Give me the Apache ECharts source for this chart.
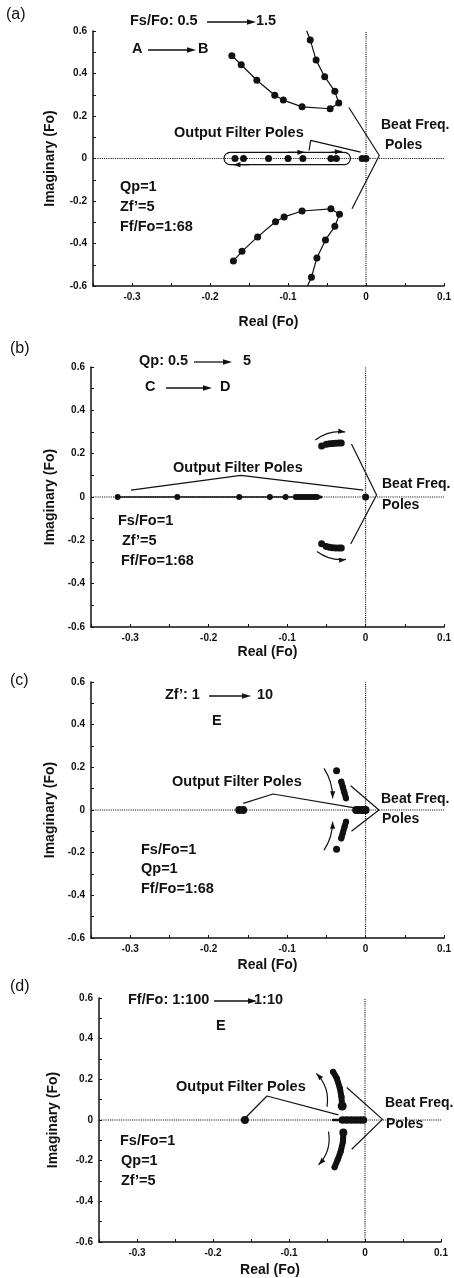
<!DOCTYPE html>
<html>
<head>
<meta charset="utf-8">
<script src="https://cdn.jsdelivr.net/npm/echarts@6/dist/echarts.min.js"></script>
<style>
  html, body { margin: 0; padding: 0; background: #fff; }
  #chart { width: 454px; height: 1278px; }
</style>
</head>
<body>
<div id="chart"></div>
<script>
// ---- pole locations, [real, imaginary] in Fo ----
// (a) Fs/Fo 0.5 -> 1.5
const aUpper = [[-0.172, 0.484], [-0.160, 0.441], [-0.140, 0.368], [-0.117, 0.298], [-0.106, 0.275],
  [-0.082, 0.243], [-0.046, 0.234], [-0.035, 0.261], [-0.040, 0.316], [-0.053, 0.385],
  [-0.064, 0.463], [-0.0715, 0.558], [-0.076, 0.600]];
const aLower = [[-0.170, -0.482], [-0.159, -0.437], [-0.139, -0.369], [-0.116, -0.298], [-0.105, -0.275],
  [-0.082, -0.247], [-0.045, -0.237], [-0.034, -0.262], [-0.040, -0.319], [-0.052, -0.383],
  [-0.063, -0.468], [-0.070, -0.559], [-0.075, -0.600]];
const aFilter = [[-0.168, 0], [-0.157, 0], [-0.125, 0], [-0.100, 0], [-0.081, 0], [-0.045, 0], [-0.038, 0]];
const aBeat = [[-0.005, 0], [0, 0]];

// (b) Qp 0.5 -> 5
const bFilter = [[-0.316, 0], [-0.240, 0], [-0.161, 0], [-0.122, 0], [-0.102, 0], [-0.089, 0], [-0.086, 0],
  [-0.083, 0], [-0.080, 0], [-0.077, 0], [-0.074, 0], [-0.071, 0], [-0.068, 0], [-0.065, 0], [-0.062, 0]];
const bUpper = [[-0.056, 0.235], [-0.050, 0.243], [-0.046, 0.246], [-0.042, 0.247], [-0.038, 0.248],
  [-0.034, 0.249], [-0.031, 0.249]];
const bLower = [[-0.056, -0.216], [-0.050, -0.228], [-0.046, -0.232], [-0.042, -0.234], [-0.038, -0.235],
  [-0.034, -0.235], [-0.031, -0.235]];
const bBeat = [[0, 0]];

// (c) Zf' 1 -> 10
const cFilter = [[-0.161, 0], [-0.156, 0]];
const cBeat = [[-0.012, 0], [-0.009, 0], [-0.006, 0], [-0.003, 0], [0, 0]];
const cUpperFirst = [[-0.037, 0.184]];
const cUpper = [[-0.031, 0.133], [-0.029, 0.107], [-0.027, 0.081], [-0.025, 0.055]];
const cLowerFirst = [[-0.037, -0.184]];
const cLower = [[-0.031, -0.133], [-0.029, -0.107], [-0.027, -0.081], [-0.025, -0.055]];

// (d) Ff/Fo 1:100 -> 1:10
const dFilter = [[-0.158, 0]];
const dBeatTail = [[-0.042, 0], [-0.030, 0]];
const dBeat = [[-0.030, 0], [-0.024, 0], [-0.018, 0], [-0.012, 0], [-0.006, 0], [-0.002, 0]];
const dUpper = [[-0.042, 0.237], [-0.037, 0.204], [-0.033, 0.155], [-0.031, 0.114], [-0.030, 0.069]];
const dLower = [[-0.0285, -0.062], [-0.029, -0.106], [-0.032, -0.155], [-0.036, -0.196], [-0.040, -0.232]];

// ---- annotation lines (leader lines, arrows) in data coordinates ----
const leadBeat = [
  [[-0.022, 0.24], [0.017, 0.014], [-0.018, -0.236]],
  [[-0.018, 0.245], [0.014, 0.009], [-0.019, -0.217]],
  [[-0.019, 0.114], [0.017, 0], [-0.018, -0.10]],
  [[-0.024, 0.16], [0.023, 0.003], [-0.0175, -0.144]]
];
const leadFilter = [
  [[-0.073, 0.038], [-0.071, 0.085], [-0.007, 0.03]],
  [[-0.299, 0.032], [-0.159, 0.10], [-0.003, 0.032]],
  [[-0.156, 0.031], [-0.118, 0.075], [-0.010, 0.008]],
  [[-0.156, 0.016], [-0.129, 0.118], [-0.035, 0.025]]
];
// [from, to, bend]
const arrows = [
  [[[-0.10, 0.029], [-0.079, 0.029], 0], [[-0.045, 0.029], [-0.031, 0.034], 0], [[-0.150, -0.029], [-0.170, -0.029], 0]],
  [[[-0.064, 0.263], [-0.026, 0.30], -0.2], [[-0.062, -0.252], [-0.025, -0.288], 0.2]],
  [[[-0.053, 0.195], [-0.042, 0.055], -0.15], [[-0.053, -0.188], [-0.042, -0.055], 0.15]],
  [[[-0.050, 0.065], [-0.064, 0.229], 0.25], [[-0.048, -0.057], [-0.061, -0.22], -0.25]]
];
const aLoop = { x1: -0.182, x2: -0.020, h: 0.029 };

const zeroH = [[-0.35, 0], [0.1, 0]];
const zeroV = [[0, -0.6], [0, 0.6]];

// ---- layout ----
const ink = '#111';
const font = '"Liberation Sans", Arial, Helvetica, sans-serif';
const grids = [
  { left: 93, top: 31, width: 352, height: 255 },
  { left: 91, top: 367, width: 356, height: 260 },
  { left: 91, top: 682, width: 356, height: 256 },
  { left: 99, top: 998, width: 342, height: 245 }
];
const xNameGap = [29, 18, 20, 21];
const yNameGap = [36, 33, 33, 39];

function xAxisFor(i) {
  return {
    gridIndex: i, type: 'value', min: -0.35, max: 0.1, interval: 0.05,
    name: 'Real (Fo)', nameLocation: 'middle', nameGap: xNameGap[i],
    nameTextStyle: { color: ink, fontFamily: font, fontWeight: 'bold', fontSize: 14 },
    axisLine: { onZero: false, lineStyle: { color: ink, width: 1.5 } },
    axisTick: { inside: true, length: 3, lineStyle: { color: ink } },
    axisLabel: {
      color: ink, fontFamily: font, fontWeight: 'bold', fontSize: 10, margin: 6,
      showMinLabel: true, showMaxLabel: true,
      formatter: v => { const k = Math.round(v * 100); return k % 10 === 0 ? (k === 0 ? '0' : String(k / 100)) : ''; }
    },
    splitLine: { show: false }
  };
}
function yAxisFor(i) {
  return {
    gridIndex: i, type: 'value', min: -0.6, max: 0.6, interval: 0.1,
    name: 'Imaginary (Fo)', nameLocation: 'middle', nameGap: yNameGap[i],
    nameTextStyle: { color: ink, fontFamily: font, fontWeight: 'bold', fontSize: 14 },
    axisLine: { show: true, onZero: false, lineStyle: { color: ink, width: 1.5 } },
    axisTick: { inside: true, length: 3, lineStyle: { color: ink } },
    axisLabel: {
      color: ink, fontFamily: font, fontWeight: 'bold', fontSize: 10, margin: 6,
      formatter: v => { const k = Math.round(v * 10); return k % 2 === 0 ? (k === 0 ? '0' : (k / 10).toFixed(1)) : ''; }
    },
    splitLine: { show: false }
  };
}

function guide(i, data, dotted) {
  return {
    type: 'line', xAxisIndex: i, yAxisIndex: i, data: data, symbol: 'none', silent: true,
    lineStyle: { color: ink, width: dotted ? 1.1 : 1.2, type: dotted ? 'dotted' : 'solid' }, z: 1
  };
}
function path(i, data, size, width, lastBare) {
  return {
    type: 'line', xAxisIndex: i, yAxisIndex: i, data: data, symbol: 'circle',
    symbolSize: (v, p) => (lastBare && p.dataIndex === data.length - 1) ? 0 : size,
    showAllSymbol: true, silent: true,
    itemStyle: { color: ink, opacity: 1 }, lineStyle: { color: ink, width: width, cap: 'round' }, z: 3
  };
}
function dots(i, data, size) {
  return {
    type: 'scatter', xAxisIndex: i, yAxisIndex: i, data: data, symbol: 'circle', symbolSize: size,
    silent: true, itemStyle: { color: ink, opacity: 1 }, z: 3
  };
}

const series = [];
for (let i = 0; i < 4; i++) {
  series.push(guide(i, zeroH, true), guide(i, zeroV, true));
  series.push(guide(i, leadBeat[i], false), guide(i, leadFilter[i], false));
}
series.push(path(0, aUpper, 7, 1.2, true), path(0, aLower, 7, 1.2, true));
series.push(dots(0, aFilter, 7), dots(0, aBeat, 7));
series.push(path(1, bFilter, 6, 1.5, false), dots(1, bBeat, 7));
series.push(path(1, bUpper, 7, 5, false), path(1, bLower, 7, 5, false));
series.push(path(1, [[-0.062, 0], [-0.057, 0]], 0, 3, false));
series.push(path(2, cFilter, 8, 6, false), path(2, cBeat, 8, 7, false));
series.push(dots(2, cUpperFirst, 7), dots(2, cLowerFirst, 7));
series.push(path(2, cUpper, 6, 6, false), path(2, cLower, 6, 6, false));
series.push(dots(3, dFilter, 8), path(3, dBeatTail, 0, 2.5, false), path(3, dBeat, 7, 7, false));
series.push(path(3, dUpper, 6, 6, false), path(3, dLower, 6, 6, false));
series.push(dots(3, [dUpper[dUpper.length - 1]], 9), dots(3, [dLower[0]], 8));

const chart = echarts.init(document.getElementById('chart'));
chart.setOption({
  animation: false,
  backgroundColor: '#fff',
  grid: grids,
  xAxis: [0, 1, 2, 3].map(xAxisFor),
  yAxis: [0, 1, 2, 3].map(yAxisFor),
  series: series
});

// ---- text annotations and straight title arrows ----
const fs = 14.5;
function txt(x, y, s, size, weight) {
  size = size || fs;
  return {
    type: 'text', left: x, top: y - size / 2 - 1, silent: true,
    style: { text: s, fill: ink, font: (weight || 'bold') + ' ' + size + 'px ' + font }
  };
}
function head(tx, ty, dx, dy, len, half) {
  const d = Math.hypot(dx, dy) || 1;
  const ux = dx / d, uy = dy / d;
  const bx = tx - ux * len, by = ty - uy * len;
  return {
    type: 'polygon', silent: true,
    shape: { points: [[tx, ty], [bx - uy * half, by + ux * half], [bx + uy * half, by - ux * half]] },
    style: { fill: ink }
  };
}
function arrowHead(x1, x2, y) {
  return [
    { type: 'line', silent: true, shape: { x1: x1, y1: y, x2: x2 - 6, y2: y }, style: { stroke: ink, lineWidth: 1.3 } },
    head(x2, y, 1, 0, 9, 2.8)
  ];
}

const graphic = [
  txt(6, 16, '(a)', 16, 'normal'),
  txt(130, 22, 'Fs/Fo: 0.5'), ...arrowHead(207, 256, 22), txt(256, 22, '1.5'),
  txt(132, 50, 'A'), ...arrowHead(148, 196, 50), txt(198, 50, 'B'),
  txt(174, 134, 'Output Filter Poles'),
  txt(381, 126, 'Beat Freq.', 14), txt(385, 146, 'Poles', 14),
  txt(120, 188, 'Qp=1'), txt(120, 208, 'Zf’=5'), txt(120, 228, 'Ff/Fo=1:68'),

  txt(10, 350, '(b)', 16, 'normal'),
  txt(139, 362, 'Qp: 0.5'), ...arrowHead(194, 232, 362), txt(243, 362, '5'),
  txt(145, 388, 'C'), ...arrowHead(166, 212, 388), txt(220, 388, 'D'),
  txt(173, 469, 'Output Filter Poles'),
  txt(382, 485, 'Beat Freq.', 14), txt(382, 506, 'Poles', 14),
  txt(118, 522, 'Fs/Fo=1'), txt(122, 542, 'Zf’=5'), txt(121, 562, 'Ff/Fo=1:68'),

  txt(10, 682, '(c)', 16, 'normal'),
  txt(165, 696, 'Zf’: 1'), ...arrowHead(209, 251, 696), txt(257, 696, '10'),
  txt(212, 722, 'E'),
  txt(172, 783, 'Output Filter Poles'),
  txt(381, 800, 'Beat Freq.', 14), txt(382, 820, 'Poles', 14),
  txt(141, 851, 'Fs/Fo=1'), txt(141, 870, 'Qp=1'), txt(141, 890, 'Ff/Fo=1:68'),

  txt(10, 988, '(d)', 16, 'normal'),
  txt(128, 1001, 'Ff/Fo: 1:100'), ...arrowHead(214, 257, 1001), txt(254, 1001, '1:10'),
  txt(216, 1027, 'E'),
  txt(176, 1088, 'Output Filter Poles'),
  txt(385, 1104, 'Beat Freq.', 14), txt(386, 1125, 'Poles', 14),
  txt(120, 1142, 'Fs/Fo=1'), txt(121, 1162, 'Qp=1'), txt(121, 1182, 'Zf’=5')
];

// rounded loop around the output filter poles in (a)
const p1 = chart.convertToPixel({ gridIndex: 0 }, [aLoop.x1, aLoop.h]);
const p2 = chart.convertToPixel({ gridIndex: 0 }, [aLoop.x2, -aLoop.h]);
graphic.push({
  type: 'rect', silent: true,
  shape: { x: p1[0], y: p1[1], width: p2[0] - p1[0], height: p2[1] - p1[1], r: (p2[1] - p1[1]) / 2 },
  style: { fill: 'none', stroke: ink, lineWidth: 1.2 }
});

// curved / straight direction arrows placed in data coordinates
arrows.forEach((list, i) => {
  list.forEach(a => {
    const s = chart.convertToPixel({ gridIndex: i }, a[0]);
    const e = chart.convertToPixel({ gridIndex: i }, a[1]);
    const dx = e[0] - s[0], dy = e[1] - s[1];
    const cx = (s[0] + e[0]) / 2 - dy * a[2], cy = (s[1] + e[1]) / 2 + dx * a[2];
    graphic.push({
      type: 'bezierCurve', silent: true,
      shape: { x1: s[0], y1: s[1], x2: e[0], y2: e[1], cpx1: cx, cpy1: cy },
      style: { stroke: ink, lineWidth: 1.2, fill: 'none' }
    });
    graphic.push(head(e[0], e[1], e[0] - cx, e[1] - cy, 7, 2.6));
  });
});

chart.setOption({ graphic: graphic });
</script>
</body>
</html>
